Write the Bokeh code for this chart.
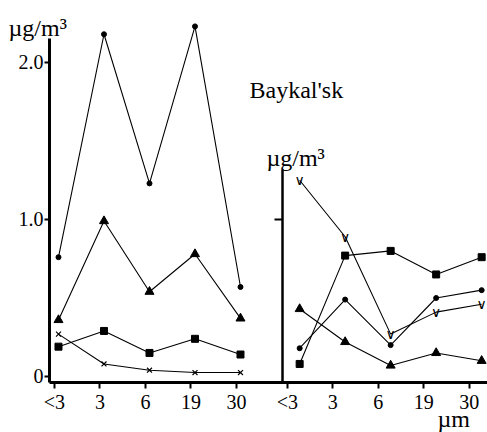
from bokeh.plotting import figure
from bokeh.models import Range1d, LinearAxis, FixedTicker, Label
from bokeh.core.properties import value
from bokeh.embed import file_html
from bokeh.resources import INLINE

# ---- data ----
categories = ["<3", "3", "6", "19", "30"]
left_circle = [0.76, 2.18, 1.23, 2.23, 0.57]
left_triangle = [0.36, 0.99, 0.54, 0.78, 0.37]
left_square = [0.19, 0.29, 0.15, 0.24, 0.14]
left_cross = [0.27, 0.08, 0.04, 0.025, 0.025]
right_square = [0.08, 0.77, 0.80, 0.65, 0.76]
right_circle = [0.18, 0.49, 0.20, 0.50, 0.55]
right_triangle = [0.43, 0.22, 0.07, 0.15, 0.10]
right_v = [1.25, 0.89, 0.27, 0.41, 0.46]
y_tick_values = [0, 1, 2]
y_tick_labels = ["0", "1.0", "2.0"]

# ---- layout constants ----
FONT = "Liberation Serif"
RIGHT_OFFSET = 5.3
LEFT_TICK_SHIFT = -0.09
RIGHT_TICK_SHIFT = -0.27
LEFT_AXIS_X = -0.198
RIGHT_AXIS_X = 4.934
BOTTOM_AXIS_Y = -0.038

xl = [i for i in range(len(categories))]
xr = [i + RIGHT_OFFSET for i in range(len(categories))]

p = figure(width=487, height=432, output_backend="svg", toolbar_location=None,
           x_range=Range1d(-1.2747, 9.4286), y_range=Range1d(-0.3567, 2.3949),
           min_border=0, title=None)
p.outline_line_color = None
p.xgrid.visible = False
p.ygrid.visible = False

# bottom axis
xticks = [round(x + LEFT_TICK_SHIFT, 3) for x in xl] + [round(x + RIGHT_TICK_SHIFT, 3) for x in xr]
xa = p.xaxis[0]
xa.fixed_location = BOTTOM_AXIS_Y
xa.bounds = (LEFT_AXIS_X, 9.4286)
xa.ticker = FixedTicker(ticks=xticks)
xa.major_label_overrides = {t: lab for t, lab in zip(xticks, categories + categories)}
xa.axis_line_width = 3
xa.axis_line_color = "black"
xa.major_tick_out = 6
xa.major_tick_in = 0
xa.major_tick_line_width = 2
xa.minor_tick_line_color = None
xa.major_label_text_font = FONT
xa.major_label_text_font_size = "20px"
xa.major_label_text_color = "black"
xa.major_label_standoff = 3

# left axis
ya = p.yaxis[0]
ya.fixed_location = LEFT_AXIS_X
ya.ticker = FixedTicker(ticks=y_tick_values)
ya.major_label_overrides = {t: lab for t, lab in zip(y_tick_values, y_tick_labels)}
ya.bounds = (BOTTOM_AXIS_Y, 2.153)
ya.axis_line_width = 3
ya.axis_line_color = "black"
ya.major_tick_out = 5
ya.major_tick_in = 0
ya.major_tick_line_width = 2
ya.minor_tick_line_color = None
ya.major_label_text_font = FONT
ya.major_label_text_font_size = "20px"
ya.major_label_text_color = "black"
ya.major_label_standoff = 1

# right panel axis
ra = LinearAxis(fixed_location=RIGHT_AXIS_X, ticker=FixedTicker(ticks=[1]),
                bounds=(BOTTOM_AXIS_Y, 1.32))
ra.axis_line_width = 2.5
ra.axis_line_color = "black"
ra.major_tick_out = 8
ra.major_tick_in = 0
ra.major_tick_line_width = 2
ra.major_tick_line_color = "black"
ra.minor_tick_line_color = None
ra.major_label_overrides = {1: " "}
p.add_layout(ra, "left")

LW = 1.1
p.line(xl, left_circle, line_color="black", line_width=LW)
p.scatter(xl, left_circle, marker="circle", size=5, color="black")
p.line(xl, left_triangle, line_color="black", line_width=LW)
p.scatter(xl, left_triangle, marker="triangle", size=9, color="black")
p.line(xl, left_square, line_color="black", line_width=LW)
p.scatter(xl, left_square, marker="square", size=7, color="black")
p.line(xl, left_cross, line_color="black", line_width=LW)
p.scatter(xl, left_cross, marker="x", size=7, line_color="black", line_width=1.2)

p.line(xr, right_square, line_color="black", line_width=LW)
p.scatter(xr, right_square, marker="square", size=7, color="black")
p.line(xr, right_circle, line_color="black", line_width=LW)
p.scatter(xr, right_circle, marker="circle", size=5, color="black")
p.line(xr, right_triangle, line_color="black", line_width=LW)
p.scatter(xr, right_triangle, marker="triangle", size=9, color="black")
p.line(xr, right_v, line_color="black", line_width=LW)
p.text(xr, right_v, text=value("\u2228"), text_font=value("DejaVu Sans"),
       text_font_size="14px", text_align="center", text_baseline="middle",
       text_color="black")

# text labels (data units)
for (lx, ly, txt) in [(-1.099, 2.217, "\u00b5g/m\u00b3"),
                      (4.57, 1.389, "\u00b5g/m\u00b3"),
                      (4.198, 1.822, "Baykal'sk"),
                      (8.33, -0.27, "\u00b5m")]:
    p.add_layout(Label(x=lx, y=ly, text=txt, text_font=FONT, text_font_size="24px",
                       text_color="black", text_baseline="alphabetic", text_align="left"))

open("out.html", "w").write(file_html(p, INLINE))
